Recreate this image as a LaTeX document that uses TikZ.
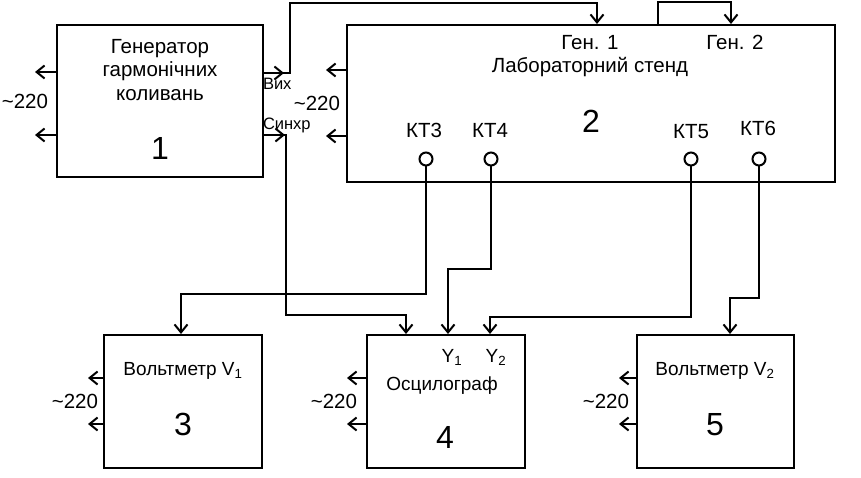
\documentclass[tikz,border=0pt]{standalone}
\usepackage{fontspec}
\setmainfont{Liberation Sans}
\usetikzlibrary{arrows.meta,positioning}

\begin{document}
\begin{tikzpicture}[
  x=1pt, y=-1pt,
  line width=2pt,
  block/.style={rectangle, draw, line width=2pt},
  arr/.style={-{Straight Barb[length=8pt,width=13pt]}},
  txt/.style={font=\fontsize{20.5}{23.5}\selectfont, inner sep=0pt, align=center},
  small/.style={font=\fontsize{19}{21}\selectfont, inner sep=0pt, anchor=base},
  num/.style={font=\fontsize{32}{36}\selectfont, inner sep=0pt, anchor=base},
  port/.style={font=\fontsize{16.5}{18}\selectfont, inner sep=0pt, anchor=base west},
  kt/.style={circle, draw, minimum size=13pt, inner sep=0pt},
  mains/.style={font=\fontsize{20.5}{22}\selectfont, inner sep=0pt}
]
\useasboundingbox (0,0) rectangle (861,478);

% blocks
\node[block, minimum width=206pt, minimum height=152pt] (gen) at (160,101) {};
\node[block, minimum width=488pt, minimum height=157pt] (stand) at (591,103.5) {};
\node[block, minimum width=158pt, minimum height=133pt] (vm1) at (183,401.5) {};
\node[block, minimum width=158pt, minimum height=133pt] (osc) at (446,401.5) {};
\node[block, minimum width=157pt, minimum height=133pt] (vm2) at (715.5,401.5) {};

% block texts
\node[txt] (gentxt) at (160,70) {Генератор\\гармонічних\\коливань};
\node[num] (gennum) at (160,160) {1};
\node[port] (vyx) at (262,90) {Вих};
\node[port] (synhr) at (262,130) {Синхр};

\node[txt, anchor=base] (gen1lbl) at (590,50) {Ген. 1};
\node[txt, anchor=base] (gen2lbl) at (735,50) {Ген. 2};
\node[txt, anchor=base] (standtxt) at (590,73) {Лабораторний стенд};
\node[num] (standnum) at (591,133) {2};

\node[small] (vm1txt) at (183,375) {Вольтметр V\textsubscript{1}};
\node[num] (vm1num) at (183,435) {3};
\node[small] (y1lbl) at (452,362) {Y\textsubscript{1}};
\node[small] (y2lbl) at (496,362) {Y\textsubscript{2}};
\node[small] (osctxt) at (442,390) {Осцилограф};
\node[num] (oscnum) at (445,448) {4};
\node[small] (vm2txt) at (715,375) {Вольтметр V\textsubscript{2}};
\node[num] (vm2num) at (715,435) {5};

% test points
\node[kt] (kt3) at (426,159) {};
\node[kt] (kt4) at (491,159) {};
\node[kt] (kt5) at (691,159) {};
\node[kt] (kt6) at (759,159) {};
\node[txt, anchor=base] (kt3lbl) at (424,138) {КТ3};
\node[txt, anchor=base] (kt4lbl) at (490,138) {КТ4};
\node[txt, anchor=base] (kt5lbl) at (691,139) {КТ5};
\node[txt, anchor=base] (kt6lbl) at (758,136) {КТ6};

% mains ~220
\node[mains, left=7pt of gen.west] (p1) {\textasciitilde220};
\node[mains, left=5pt of stand.west] (p2) {\textasciitilde220};
\node[mains, left=4pt of vm1.west] (p3) {\textasciitilde220};
\node[mains, left=8pt of osc.west] (p4) {\textasciitilde220};
\node[mains, left=6pt of vm2.west] (p5) {\textasciitilde220};
\foreach \b/\u/\d/\l in {gen/29/34/21, stand/33.5/32.5/20, vm1/23.5/22.5/15, osc/23.5/22.5/19, vm2/23.5/22.5/17}{
  \draw[arr] ([yshift=\u pt]\b.west) -- ++(-\l,0);
  \draw[arr] ([yshift=-\d pt]\b.west) -- ++(-\l,0);
}

% connection points
\coordinate (vyxout) at ([yshift=28pt]gen.east);
\coordinate (syncout) at ([yshift=-34pt]gen.east);
\coordinate (gen1in) at ([xshift=6pt]stand.north);
\coordinate (gen2out) at ([xshift=67pt]stand.north);
\coordinate (gen2in) at ([xshift=140pt]stand.north);
\coordinate (v1in) at ([xshift=-2pt]vm1.north);
\coordinate (syncin) at ([xshift=-40pt]osc.north);
\coordinate (y1in) at ([xshift=2pt]osc.north);
\coordinate (y2in) at ([xshift=44pt]osc.north);
\coordinate (v2in) at ([xshift=14.5pt]vm2.north);

% connections
\draw[arr] (vyxout) -- ++(20,0);
\draw[arr] (vyxout) -| (290,3) -| (gen1in);
\draw[arr] (gen2out) -- ++(0,-22) -| (gen2in);
\draw[arr] (syncout) -- ++(21,0);
\draw[arr] (syncout) -| (286,315) -| (syncin);
\draw[arr] (kt3.south) -- ++(0,127) -| (v1in);
\draw[arr] (kt4.south) -- ++(0,102) -| (y1in);
\draw[arr] (kt5.south) -- ++(0,150) -| (y2in);
\draw[arr] (kt6.south) -- ++(0,131) -| (v2in);

\end{tikzpicture}
\end{document}
